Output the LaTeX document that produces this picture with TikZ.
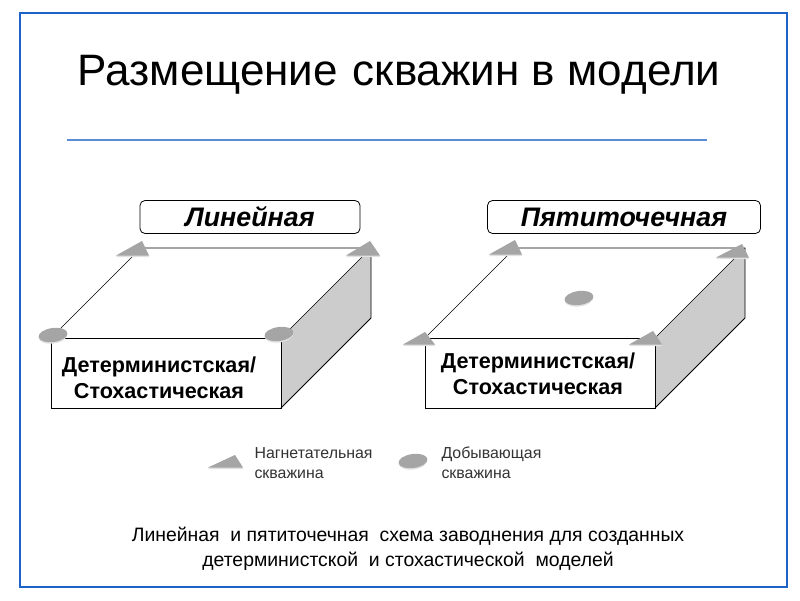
\documentclass[tikz,border=0pt]{standalone}
\usepackage{fontspec}
\setmainfont{Liberation Sans}
\definecolor{frameblue}{RGB}{30,100,200}
\definecolor{ruleblue}{RGB}{90,140,215}
\definecolor{sidegray}{RGB}{204,204,204}
\definecolor{wellgray}{RGB}{165,165,165}
\definecolor{wellrim}{RGB}{225,225,225}
\tikzset{
	edge/.style={draw=black,line width=.9pt},
	thinedge/.style={draw=black,line width=.6pt},
	namebox/.style={draw=black,line width=.8pt,rounded corners=5pt,inner sep=0pt,font=\bfseries\itshape\fontsize{26.8}{27}\selectfont},
	boxtext/.style={align=center,font=\bfseries\fontsize{21.6}{26}\selectfont},
	legendtext/.style={align=left,anchor=west,font=\fontsize{15.9}{20}\selectfont,text=black!80},
	wellrimfill/.style={fill=wellrim},
	wellfill/.style={fill=wellgray}
}
% nagnetatelnaya: apex x, apex y, base left x, base right x, base y
\newcommand{\welltri}[5]{
	\fill[wellrimfill] (#1,#2)--(#3,#5+1)--(#4,#5+1)--cycle;
	\fill[wellfill] (#1,#2)--(#3,#5-.5)--(#4,#5-.5)--cycle;
}
% dobyvayushchaya
\newcommand{\wellell}[2]{
	\fill[wellrimfill,rotate around={8:(#1,#2+1)}] (#1,#2+1) ellipse (14.5 and 7.5);
	\fill[wellfill,rotate around={8:(#1,#2)}] (#1,#2) ellipse (14.5 and 7);
}
\begin{document}
\begin{tikzpicture}[x=1pt,y=-1pt]
	\useasboundingbox (0,0) rectangle (800,600);
	\fill[white] (0,0) rectangle (800,600);
	\draw[frameblue,line width=2pt] (20,13) rectangle (787,587);
	\node (title) at (399,75) {\fontsize{44}{44}\selectfont Размещение\hspace{.06em} скважин в модели};
	\coordinate (ruleA) at (67,140);
	\coordinate (ruleB) at (707,140);
	\draw[ruleblue,line width=1.1pt] (ruleA)--(ruleB);

	% left block
	\coordinate (la) at (51,338);
	\coordinate (lb) at (281,338);
	\coordinate (lc) at (281,408);
	\coordinate (ld) at (51,408);
	\coordinate (le) at (371,248);
	\coordinate (lf) at (371,318);
	\coordinate (lg) at (141,248);
	\fill[sidegray] (lb)--(le)--(lf)--(lc)--cycle;
	\draw[edge] (la)--(lb)--(lc)--(ld)--cycle;
	\draw[edge] (lc)--(lf)--(le)--(lg);
	\draw[thinedge] (la)--(lg);
	\draw[thinedge] (lb)--(le);
	\node[minimum width=220pt,minimum height=33pt,namebox] (linear) at (250,217) {Линейная};
	\node[boxtext] (leftlabel) at (159,378) {Детерминистская/\\Стохастическая};
	\welltri{142}{241}{116}{149}{256}
	\welltri{370}{241}{346}{380}{256}
	\wellell{53}{335}
	\wellell{279}{334}

	% right block
	\coordinate (ra) at (425,338);
	\coordinate (rb) at (655,338);
	\coordinate (rc) at (655,408);
	\coordinate (rd) at (425,408);
	\coordinate (re) at (745,248);
	\coordinate (rf) at (745,318);
	\coordinate (rg) at (515,248);
	\fill[sidegray] (rb)--(re)--(rf)--(rc)--cycle;
	\draw[edge] (ra)--(rb)--(rc)--(rd)--cycle;
	\draw[edge] (rc)--(rf)--(re)--(rg);
	\draw[thinedge] (ra)--(rg);
	\draw[thinedge] (rb)--(re);
	\node[minimum width=273pt,minimum height=33pt,namebox] (fivepoint) at (624,217) {Пятиточечная};
	\node[boxtext] (rightlabel) at (538,374) {Детерминистская/\\Стохастическая};
	\welltri{515}{240}{489}{522}{255}
	\welltri{742}{244}{716}{749}{258}
	\welltri{425}{332}{403}{435}{345}
	\welltri{653}{331}{629}{662}{345}
	\wellell{579}{298}

	% legend
	\welltri{235}{455}{208}{243}{468}
	\wellell{413}{461}
	\node[legendtext] (legendA) at (251,463) {Нагнетательная\\скважина};
	\node[legendtext] (legendB) at (438,463) {Добывающая\\скважина};

	\node[align=center,font=\fontsize{19.4}{25}\selectfont] (caption) at (408,549) {Линейная \ и пятиточечная \ схема заводнения для созданных\\детерминистской \ и стохастической \ моделей};
\end{tikzpicture}
\end{document}
